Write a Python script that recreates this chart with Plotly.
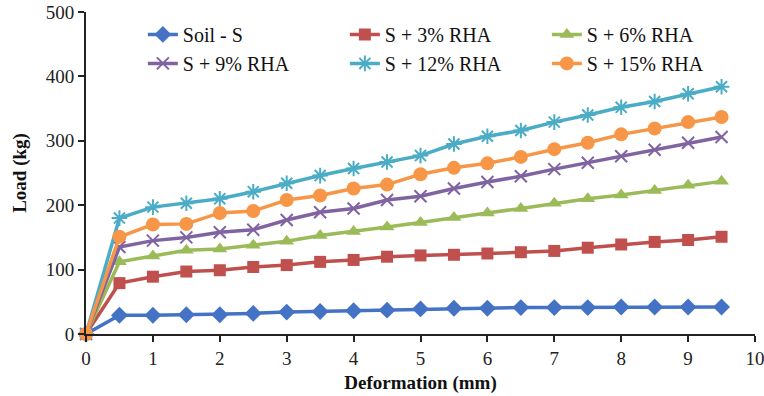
import plotly.graph_objects as go

# Deformation readings (mm)
deformation = [0, 0.5, 1, 1.5, 2, 2.5, 3, 3.5, 4, 4.5, 5, 5.5, 6, 6.5, 7, 7.5, 8, 8.5, 9, 9.5]

# Load (kg) for each mix
soil = [0, 29, 29, 30, 30, 32, 34, 35, 36, 37, 39, 40, 40, 41, 41, 41, 42, 42, 42, 42]
rha3 = [0, 79, 89, 97, 99, 104, 107, 112, 115, 120, 122, 123, 125, 127, 129, 134, 139, 143, 146, 151]
rha6 = [0, 112, 121, 130, 132, 138, 144, 153, 159, 166, 173, 181, 188, 195, 203, 210, 216, 223, 231, 237]
rha9 = [0, 135, 145, 150, 158, 162, 177, 189, 195, 208, 214, 226, 236, 245, 256, 266, 276, 286, 297, 306]
rha12 = [0, 180, 197, 203, 210, 221, 234, 246, 257, 267, 277, 295, 307, 316, 329, 340, 352, 361, 373, 384]
rha15 = [0, 151, 170, 171, 188, 191, 208, 215, 226, 232, 248, 258, 265, 275, 287, 297, 310, 319, 329, 337]

series = [
    ("Soil - S", soil, "#4472C4", "diamond", 13),
    ("S + 3% RHA", rha3, "#C0504D", "square", 12),
    ("S + 6% RHA", rha6, "#9BBB59", "triangle-up", 13),
    ("S + 9% RHA", rha9, "#8064A2", "x-thin-open", 12),
    ("S + 12% RHA", rha12, "#4BACC6", "asterisk-open", 13),
    ("S + 15% RHA", rha15, "#F79646", "circle", 14),
]

FONT = "Liberation Serif, Times New Roman, serif"

fig = go.Figure()
for name, vals, color, symbol, size in series:
    open_marker = symbol.endswith("-open")
    fig.add_trace(go.Scatter(
        x=deformation, y=vals, name=name, mode="lines+markers",
        line=dict(color=color, width=3.5),
        marker=dict(symbol=symbol, size=size, color=color,
                    line=dict(color=color, width=2 if open_marker else 0)),
        cliponaxis=False,
    ))

fig.update_layout(
    width=764, height=396,
    margin=dict(l=86, r=9, t=12, b=62, autoexpand=False),
    paper_bgcolor="white", plot_bgcolor="white",
    font=dict(family=FONT, size=19, color="#222"),
    showlegend=True,
    legend=dict(
        orientation="h", x=0.085, y=0.991, xanchor="left", yanchor="top",
        entrywidth=157, entrywidthmode="pixels",
        font=dict(family=FONT, size=20, color="#111"),
        bgcolor="rgba(0,0,0,0)", traceorder="normal",
    ),
    xaxis=dict(
        range=[0, 10], tickvals=list(range(0, 11)),
        showgrid=False, zeroline=False,
        showline=True, linecolor="#222", linewidth=2,
        ticks="outside", ticklen=6, tickwidth=2, tickcolor="#222",
        tickfont=dict(family=FONT, size=19, color="#222"),
        ticklabeloverflow="allow",
        title=dict(text="<b>Deformation (mm)</b>", standoff=8,
                   font=dict(family=FONT, size=19, color="#111")),
    ),
    yaxis=dict(
        range=[0, 500], tickvals=[0, 100, 200, 300, 400, 500],
        showgrid=False, zeroline=False,
        showline=True, linecolor="#222", linewidth=2,
        ticks="outside", ticklen=6, tickwidth=2, tickcolor="#222",
        tickfont=dict(family=FONT, size=19, color="#222"),
        title=dict(text="<b>Load (kg)</b>", standoff=14,
                   font=dict(family=FONT, size=19, color="#111")),
    ),
)

fig.write_html("out.html")
